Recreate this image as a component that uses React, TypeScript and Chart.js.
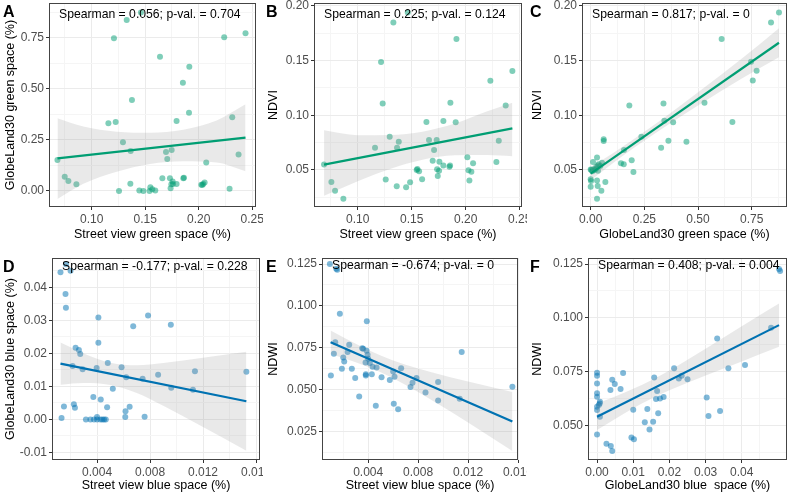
import React, { useEffect, useRef } from 'react';
import { Chart, registerables } from 'chart.js';

Chart.register(...registerables);
const FONT = '"Liberation Sans", Arial, Helvetica, sans-serif';
Chart.defaults.font.family = FONT;
Chart.defaults.font.size = 12;

const GREEN = '#009E73';
const GREEN_PT = 'rgba(0,158,115,0.5)';
const BLUE = '#0072B2';
const BLUE_PT = 'rgba(0,114,178,0.5)';
const BAND = 'rgba(153,153,153,0.22)';

// ---------- Panel A: street view green vs GlobeLand30 green ----------
const aX = [0.068,0.0748,0.0782,0.0857,0.1156,0.1208,0.1224,0.1255,0.1292,0.1327,0.1361,0.1364,0.1376,0.1445,0.146,0.1482,0.1548,0.154,0.1566,0.1594,0.1638,0.166,0.1694,0.1706,0.1731,0.1737,0.1744,0.1747,0.1756,0.1759,0.1793,0.1793,0.1852,0.1856,0.1862,0.1909,0.1912,0.2024,0.2033,0.2042,0.2055,0.207,0.2238,0.2288,0.2313,0.2372,0.2437];
const aY = [0.152,0.070,0.049,0.033,0.331,0.747,0.338,0.0,0.238,0.837,0.036,0.196,0.445,0.002,0.873,0.0,0.018,0.0,0.008,0.002,0.657,0.062,0.191,0.157,0.062,0.013,0.033,0.201,0.046,0.034,0.034,0.343,0.530,0.062,0.065,0.383,0.608,0.031,0.029,0.034,0.041,0.139,0.752,0.011,0.361,0.179,0.772];
const aFitX = [0.068, 0.2437];
const aFitY = [0.160, 0.261];
const aBandX = [0.068, 0.0922, 0.1233, 0.1545, 0.1856, 0.2167, 0.2437];
const aBandUp = [0.356, 0.315, 0.290, 0.285, 0.300, 0.345, 0.424];
const aBandLo = [-0.039, 0.035, 0.094, 0.132, 0.145, 0.140, 0.097];
const aXTicks = [0.10, 0.15, 0.20, 0.25];
const aXLabels = ['0.10', '0.15', '0.20', '0.25'];
const aXMinor = [0.075, 0.125, 0.175, 0.225];
const aYTicks = [0, 0.25, 0.5, 0.75];
const aYLabels = ['0.00', '0.25', '0.50', '0.75'];
const aYMinor = [0.125, 0.375, 0.625, 0.875];

// ---------- Panel B: street view green vs NDVI ----------
const bX = [0.0688,0.0756,0.079,0.0867,0.116,0.1216,0.1231,0.1259,0.1296,0.133,0.1361,0.1364,0.138,0.1448,0.1463,0.1485,0.1546,0.1552,0.1568,0.1596,0.1636,0.166,0.1694,0.1707,0.1731,0.1735,0.1741,0.1753,0.1756,0.1793,0.1793,0.1855,0.1858,0.1849,0.1907,0.1914,0.2015,0.2025,0.2034,0.2052,0.2068,0.2228,0.2284,0.2306,0.237,0.2432];
const bY = [0.0549,0.0390,0.0311,0.0238,0.0704,0.1486,0.1108,0.0412,0.0804,0.1848,0.0351,0.0704,0.0759,0.0342,0.1939,0.0387,0.0500,0.0509,0.0488,0.0415,0.0938,0.0774,0.0585,0.0683,0.0774,0.0506,0.0445,0.0494,0.0576,0.0540,0.0947,0.0540,0.1115,0.0530,0.0935,0.1696,0.0616,0.0497,0.0403,0.0485,0.0561,0.1315,0.0573,0.0768,0.1090,0.1404];
const bFitX = [0.0688, 0.2432];
const bFitY = [0.0549, 0.0880];
const bBandX = [0.0688, 0.10, 0.13, 0.16, 0.19, 0.22, 0.2432];
const bBandUp = [0.0862, 0.0818, 0.0820, 0.0850, 0.0924, 0.1036, 0.1115];
const bBandLo = [0.0265, 0.0398, 0.0510, 0.0594, 0.0634, 0.0636, 0.0625];
const bXTicks = [0.10, 0.15, 0.20, 0.25];
const bXLabels = ['0.10', '0.15', '0.20', '0.25'];
const bXMinor = [0.075, 0.125, 0.175, 0.225];
const bYTicks = [0.05, 0.10, 0.15, 0.20];
const bYLabels = ['0.05', '0.10', '0.15', '0.20'];
const bYMinor = [0.025, 0.075, 0.125, 0.175];

// ---------- Panel C: GlobeLand30 green vs NDVI ----------
const cX = [0.0295,0.0109,0.0373,0.0528,0.0264,0.0450,0.003,0.0186,0.0248,0.0,0.0016,0.0295,0.0326,0.0,0.0497,0.0683,0.0295,0.0606,0.0606,0.0,0.008,0.034,0.034,0.013,0.141,0.154,0.155,0.180,0.191,0.199,0.236,0.328,0.339,0.343,0.362,0.384,0.446,0.530,0.610,0.660,0.747,0.755,0.773,0.840,0.877];
const cY = [0.0613,0.0573,0.0552,0.0567,0.0530,0.0537,0.0500,0.0500,0.0512,0.0415,0.0400,0.0403,0.0354,0.0348,0.0311,0.0390,0.0238,0.0780,0.0765,0.0505,0.0488,0.0494,0.0540,0.0506,0.0561,0.0552,0.0683,0.1090,0.0588,0.0482,0.0804,0.0704,0.1108,0.0950,0.0768,0.0935,0.0759,0.1115,0.1696,0.0938,0.1489,0.1318,0.1407,0.1848,0.1939];
const cFitX = [0, 0.877];
const cFitY = [0.0467, 0.1662];
const cBandX = [0, 0.1, 0.2, 0.35, 0.5, 0.7, 0.877];
const cBandUp = [0.0527, 0.0648, 0.0780, 0.0989, 0.1209, 0.1511, 0.1795];
const cBandLo = [0.0407, 0.0558, 0.0700, 0.0899, 0.1089, 0.1331, 0.1529];
const cXTicks = [0, 0.25, 0.5, 0.75];
const cXLabels = ['0.00', '0.25', '0.50', '0.75'];
const cXMinor = [0.125, 0.375, 0.625, 0.875];
const cYTicks = [0.05, 0.10, 0.15, 0.20];
const cYLabels = ['0.05', '0.10', '0.15', '0.20'];
const cYMinor = [0.025, 0.075, 0.125, 0.175];

// ---------- Panel D: street view blue vs GlobeLand30 blue ----------
const dX = [0.00124,0.00132,0.0015,0.00162,0.00165,0.00165,0.002,0.00215,0.00225,0.00233,0.00238,0.00263,0.00273,0.00291,0.00316,0.0035,0.00372,0.00377,0.00397,0.004,0.004,0.0041,0.0041,0.00425,0.0044,0.00453,0.00466,0.00428,0.00476,0.00481,0.00519,0.00585,0.00613,0.00615,0.0062,0.00646,0.00673,0.00744,0.00759,0.00785,0.00861,0.00957,0.0096,0.01124,0.01139,0.01527];
const dY = [0.0446,0.0004,0.0039,0.038,0.0338,0.047,0.045,0.0162,0.0046,0.0035,0.0217,0.021,0.0198,0.0152,0,0,0.0068,0,0.0156,0.0007,0,0.0309,0.0232,0,0,0,0,0.006,0.0037,0.0171,0.0093,0.0158,0.0007,0.0025,0.0128,0.0038,0.0282,0.0123,0.0008,0.0315,0.0135,0.0287,0.0096,0.009,0.0146,0.0144];
const dFitX = [0.00124, 0.01527];
const dFitY = [0.0169, 0.0055];
const dBandX = [0.00124, 0.003, 0.005, 0.007, 0.009, 0.012, 0.01527];
const dBandUp = [0.0233, 0.0200, 0.0172, 0.0164, 0.0171, 0.0187, 0.0205];
const dBandLo = [0.0105, 0.0110, 0.0104, 0.0080, 0.0041, -0.0023, -0.0095];
const dXTicks = [0.004, 0.008, 0.012, 0.016];
const dXLabels = ['0.004', '0.008', '0.012', '0.016'];
const dXMinor = [0.002, 0.006, 0.010, 0.014];
const dYTicks = [-0.01, 0, 0.01, 0.02, 0.03, 0.04];
const dYLabels = ['-0.01', '0.00', '0.01', '0.02', '0.03', '0.04'];
const dYMinor = [-0.005, 0.005, 0.015, 0.025, 0.035, 0.045];

// ---------- Panel E: street view blue vs NDWI ----------
const eX = [0.00093,0.00101,0.00125,0.00136,0.00144,0.00152,0.00173,0.00189,0.002,0.00208,0.00235,0.00248,0.00269,0.00296,0.00328,0.00352,0.0036,0.00379,0.00381,0.00381,0.00387,0.00389,0.00395,0.004,0.00413,0.00429,0.00435,0.00461,0.00467,0.00507,0.00573,0.006,0.00605,0.00611,0.0064,0.00664,0.00739,0.00755,0.00787,0.00859,0.0096,0.0096,0.01133,0.01149,0.01555];
const eY = [0.125,0.0585,0.0715,0.0784,0.1222,0.1216,0.0953,0.0625,0.0693,0.0669,0.0725,0.0768,0.0625,0.057,0.046,0.0747,0.0745,0.0663,0.0593,0.0585,0.0733,0.0908,0.0709,0.0685,0.0659,0.0593,0.0637,0.0405,0.0633,0.0574,0.0558,0.0609,0.0416,0.0578,0.0383,0.0629,0.0516,0.0542,0.057,0.0484,0.0546,0.0436,0.0446,0.0725,0.0518];
const eFitX = [0.00099, 0.01555];
const eFitY = [0.0784, 0.0311];
const eBandX = [0.00099, 0.003, 0.005, 0.007, 0.009, 0.012, 0.01555];
const eBandUp = [0.0854, 0.0774, 0.0704, 0.0649, 0.0606, 0.0549, 0.0487];
const eBandLo = [0.0714, 0.0664, 0.0604, 0.0529, 0.0442, 0.0305, 0.0135];
const eXTicks = [0.004, 0.008, 0.012, 0.016];
const eXLabels = ['0.004', '0.008', '0.012', '0.016'];
const eXMinor = [0.002, 0.006, 0.010, 0.014];
const eYTicks = [0.025, 0.05, 0.075, 0.1, 0.125];
const eYLabels = ['0.025', '0.050', '0.075', '0.100', '0.125'];
const eYMinor = [0.0125, 0.0375, 0.0625, 0.0875, 0.1125];

// ---------- Panel F: GlobeLand30 blue vs NDWI ----------
const fX = [0,0,0,0,0,0,0,0,0.0005,0.00074,0.0008,0.0008,0.0026,0.0038,0.0042,0.0037,0.0042,0.0049,0.0065,0.0072,0.0095,0.01,0.0102,0.0132,0.0139,0.0145,0.0155,0.0158,0.0163,0.0166,0.0169,0.0174,0.0184,0.0213,0.0226,0.0234,0.025,0.0303,0.0308,0.0332,0.034,0.0363,0.0409,0.0481,0.0503,0.0506];
const fY = [0.0745,0.0731,0.0695,0.0649,0.0633,0.0587,0.0571,0.0458,0.0595,0.0602,0.054,0.061,0.0415,0.0404,0.0381,0.0664,0.0712,0.0692,0.0669,0.0743,0.0444,0.0573,0.0435,0.0514,0.0576,0.0481,0.0517,0.0723,0.0622,0.066,0.0556,0.0625,0.0632,0.0765,0.0718,0.0731,0.0714,0.0629,0.0543,0.0904,0.0567,0.0765,0.0781,0.0954,0.1227,0.1218];
const fFitX = [0, 0.0503];
const fFitY = [0.054, 0.0966];
const fBandX = [0, 0.005, 0.01, 0.015, 0.02, 0.03, 0.04, 0.0503];
const fBandUp = [0.0602, 0.0634, 0.067, 0.071, 0.0755, 0.0856, 0.0961, 0.1067];
const fBandLo = [0.0478, 0.053, 0.058, 0.0624, 0.0663, 0.0732, 0.0797, 0.0865];
const fXTicks = [0, 0.01, 0.02, 0.03, 0.04];
const fXLabels = ['0.00', '0.01', '0.02', '0.03', '0.04'];
const fXMinor = [0.005, 0.015, 0.025, 0.035, 0.045];
const fYTicks = [0.05, 0.075, 0.1, 0.125];
const fYLabels = ['0.050', '0.075', '0.100', '0.125'];
const fYMinor = [0.0375, 0.0625, 0.0875, 0.1125];

type Spec = {
  letter: string; letterY: number; note: string; noteDy: number;
  box: number[]; yAxisW: number; xAxisH: number; padTop: number; padRight: number; xTitlePad: number;
  xr: number[]; yr: number[];
  xTicks: number[]; xLabels: string[]; xMinor: number[];
  yTicks: number[]; yLabels: string[]; yMinor: number[];
  xTitle: string; yTitle: string;
  px: number[]; py: number[]; fx: number[]; fy: number[];
  bx: number[]; bu: number[]; bl: number[];
  line: string; pt: string;
};

const specs: Spec[] = [
  { letter: 'A', letterY: 16.7, note: 'Spearman = 0.056; p-val. = 0.704', noteDy: 11.3,
    box: [0, 0, 263, 247], yAxisW: 49, xAxisH: 40, padTop: 3, padRight: 7, xTitlePad: 4.5,
    xr: [0.0601, 0.2535], yr: [-0.0783, 0.9198],
    xTicks: aXTicks, xLabels: aXLabels, xMinor: aXMinor, yTicks: aYTicks, yLabels: aYLabels, yMinor: aYMinor,
    xTitle: 'Street view green space (%)', yTitle: 'GlobeLand30 green space (%)',
    px: aX, py: aY, fx: aFitX, fy: aFitY, bx: aBandX, bu: aBandUp, bl: aBandLo, line: GREEN, pt: GREEN_PT },
  { letter: 'B', letterY: 16.7, note: 'Spearman = 0.225; p-val. = 0.124', noteDy: 11.3,
    box: [263, 0, 264, 247], yAxisW: 51, xAxisH: 40, padTop: 3, padRight: 5, xTitlePad: 4.5,
    xr: [0.0595, 0.2521], yr: [0.0162, 0.2025],
    xTicks: bXTicks, xLabels: bXLabels, xMinor: bXMinor, yTicks: bYTicks, yLabels: bYLabels, yMinor: bYMinor,
    xTitle: 'Street view green space (%)', yTitle: 'NDVI',
    px: bX, py: bY, fx: bFitX, fy: bFitY, bx: bBandX, bu: bBandUp, bl: bBandLo, line: GREEN, pt: GREEN_PT },
  { letter: 'C', letterY: 16.7, note: 'Spearman = 0.817; p-val. = 0', noteDy: 11.3,
    box: [527, 0, 263, 247], yAxisW: 55, xAxisH: 40, padTop: 3, padRight: 3, xTitlePad: 4.5,
    xr: [-0.0405, 0.9144], yr: [0.0162, 0.2025],
    xTicks: cXTicks, xLabels: cXLabels, xMinor: cXMinor, yTicks: cYTicks, yLabels: cYLabels, yMinor: cYMinor,
    xTitle: 'GlobeLand30 green space (%)', yTitle: 'NDVI',
    px: cX, py: cY, fx: cFitX, fy: cFitY, bx: cBandX, bu: cBandUp, bl: cBandLo, line: GREEN, pt: GREEN_PT },
  { letter: 'D', letterY: 24.7, note: 'Spearman = -0.177; p-val. = 0.228', noteDy: 8.7,
    box: [0, 247, 263, 248], yAxisW: 52, xAxisH: 35, padTop: 11, padRight: 3, xTitlePad: 1.8,
    xr: [0.0006, 0.0163], yr: [-0.0123, 0.0489],
    xTicks: dXTicks, xLabels: dXLabels, xMinor: dXMinor, yTicks: dYTicks, yLabels: dYLabels, yMinor: dYMinor,
    xTitle: 'Street view blue space (%)', yTitle: 'GlobeLand30 blue space (%)',
    px: dX, py: dY, fx: dFitX, fy: dFitY, bx: dBandX, bu: dBandUp, bl: dBandLo, line: BLUE, pt: BLUE_PT },
  { letter: 'E', letterY: 24.7, note: 'Spearman = -0.674; p-val. = 0', noteDy: 7.7,
    box: [263, 247, 264, 248], yAxisW: 59, xAxisH: 35, padTop: 11, padRight: 9, xTitlePad: 1.8,
    xr: [0.0003, 0.0160], yr: [0.0081, 0.1286],
    xTicks: eXTicks, xLabels: eXLabels, xMinor: eXMinor, yTicks: eYTicks, yLabels: eYLabels, yMinor: eYMinor,
    xTitle: 'Street view blue space (%)', yTitle: 'NDWI',
    px: eX, py: eY, fx: eFitX, fy: eFitY, bx: eBandX, bu: eBandUp, bl: eBandLo, line: BLUE, pt: BLUE_PT },
  { letter: 'F', letterY: 24.7, note: 'Spearman = 0.408; p-val. = 0.004', noteDy: 7.7,
    box: [527, 247, 263, 248], yAxisW: 61, xAxisH: 35, padTop: 11, padRight: 3, xTitlePad: 1.8,
    xr: [-0.0025, 0.0525], yr: [0.0339, 0.1278],
    xTicks: fXTicks, xLabels: fXLabels, xMinor: fXMinor, yTicks: fYTicks, yLabels: fYLabels, yMinor: fYMinor,
    xTitle: 'GlobeLand30 blue  space (%)', yTitle: 'NDWI',
    px: fX, py: fY, fx: fFitX, fy: fFitY, bx: fBandX, bu: fBandUp, bl: fBandLo, line: BLUE, pt: BLUE_PT },
];

function makeScale(isX: boolean, range: number[], majors: number[], labels: string[], minors: number[], title: string, size: number, titlePad: number) {
  const values = [...majors, ...minors].sort((p, q) => p - q);
  const majorIdx = (v: number) => majors.findIndex((m) => Math.abs(m - v) < 1e-9);
  return {
    type: 'linear',
    position: isX ? 'bottom' : 'left',
    min: range[0],
    max: range[1],
    bounds: 'data',
    afterBuildTicks: (scale: any) => { scale.ticks = values.map((v) => ({ value: v })); },
    afterFit: (scale: any) => {
      if (isX) scale.height = size; else scale.width = size;
      scale.paddingLeft = 0; scale.paddingRight = 0; scale.paddingTop = 0; scale.paddingBottom = 0;
    },
    ticks: {
      autoSkip: false, maxRotation: 0, minRotation: 0, padding: 2, color: '#4D4D4D',
      font: { size: 12 },
      callback: (v: number) => { const i = majorIdx(v); return i >= 0 ? labels[i] : ''; },
    },
    grid: {
      color: (c: any) => (c.tick && majorIdx(c.tick.value) >= 0 ? '#EBEBEB' : '#F5F5F5'),
      tickColor: (c: any) => (c.tick && majorIdx(c.tick.value) >= 0 ? '#333333' : 'rgba(0,0,0,0)'),
      lineWidth: 1, tickLength: 3, tickWidth: 1, drawTicks: true,
    },
    border: { display: false },
    title: {
      display: true, text: title, color: '#000000', font: { size: 12.5 },
      padding: isX ? { top: 0, bottom: titlePad } : { top: 3, bottom: 0 },
    },
  };
}

const decorPlugin = {
  id: 'decor',
  afterDraw(chart: any, _args: any, opts: any) {
    const { ctx, chartArea: a } = chart;
    ctx.save();
    const x0 = Math.round(a.left) + 0.5, y0 = Math.round(a.top) + 0.5;
    const x1 = Math.round(a.right) - 0.5, y1 = Math.round(a.bottom) - 0.5;
    ctx.strokeStyle = '#444444';
    ctx.lineWidth = 1;
    ctx.strokeRect(x0, y0, x1 - x0, y1 - y0);
    ctx.fillStyle = '#000000';
    ctx.font = `12.2px ${FONT}`;
    ctx.textAlign = 'left';
    ctx.textBaseline = 'middle';
    ctx.fillText(opts.note, a.left + 10, a.top + opts.noteDy);
    ctx.font = `bold 16px ${FONT}`;
    ctx.textBaseline = 'alphabetic';
    ctx.fillText(opts.letter, 3, opts.letterY);
    ctx.restore();
  },
};

function Panel({ s }: { s: Spec }) {
  const ref = useRef<HTMLCanvasElement>(null);
  useEffect(() => {
    if (!ref.current) return;
    const pts = s.px.map((x, i) => ({ x, y: s.py[i] }));
    const fit = s.fx.map((x, i) => ({ x, y: s.fy[i] }));
    const up = s.bx.map((x, i) => ({ x, y: s.bu[i] }));
    const lo = s.bx.map((x, i) => ({ x, y: s.bl[i] }));
    const chart = new Chart(ref.current, {
      type: 'scatter',
      data: {
        datasets: [
          { type: 'line', data: fit, borderColor: s.line, borderWidth: 2.2, pointRadius: 0, fill: false, showLine: true } as any,
          { type: 'line', data: up, borderColor: 'rgba(0,0,0,0)', borderWidth: 0, pointRadius: 0, fill: false, showLine: true, cubicInterpolationMode: 'monotone' } as any,
          { type: 'line', data: lo, borderColor: 'rgba(0,0,0,0)', borderWidth: 0, pointRadius: 0, fill: '-1', backgroundColor: BAND, showLine: true, cubicInterpolationMode: 'monotone' } as any,
          { type: 'scatter', data: pts, backgroundColor: s.pt, borderWidth: 0, pointRadius: 3, pointHoverRadius: 3 } as any,
        ],
      },
      options: {
        responsive: false,
        animation: false,
        events: [],
        layout: { padding: { top: s.padTop, right: s.padRight, left: 0, bottom: 0 } },
        scales: {
          x: makeScale(true, s.xr, s.xTicks, s.xLabels, s.xMinor, s.xTitle, s.xAxisH, s.xTitlePad) as any,
          y: makeScale(false, s.yr, s.yTicks, s.yLabels, s.yMinor, s.yTitle, s.yAxisW, 3) as any,
        },
        plugins: {
          legend: { display: false },
          tooltip: { enabled: false },
          decor: { note: s.note, noteDy: s.noteDy, letter: s.letter, letterY: s.letterY },
        } as any,
      },
      plugins: [decorPlugin],
    });
    return () => chart.destroy();
  }, [s]);
  return (
    <div style={{ position: 'absolute', left: s.box[0], top: s.box[1], width: s.box[2], height: s.box[3], overflow: 'hidden' }}>
      <canvas ref={ref} width={s.box[2]} height={s.box[3]} style={{ width: s.box[2], height: s.box[3], display: 'block' }} />
    </div>
  );
}

export default function App() {
  return (
    <div style={{ position: 'absolute', left: 0, top: 0, width: 790, height: 495, background: '#ffffff', overflow: 'hidden' }}>
      {specs.map((s) => <Panel key={s.letter} s={s} />)}
    </div>
  );
}
